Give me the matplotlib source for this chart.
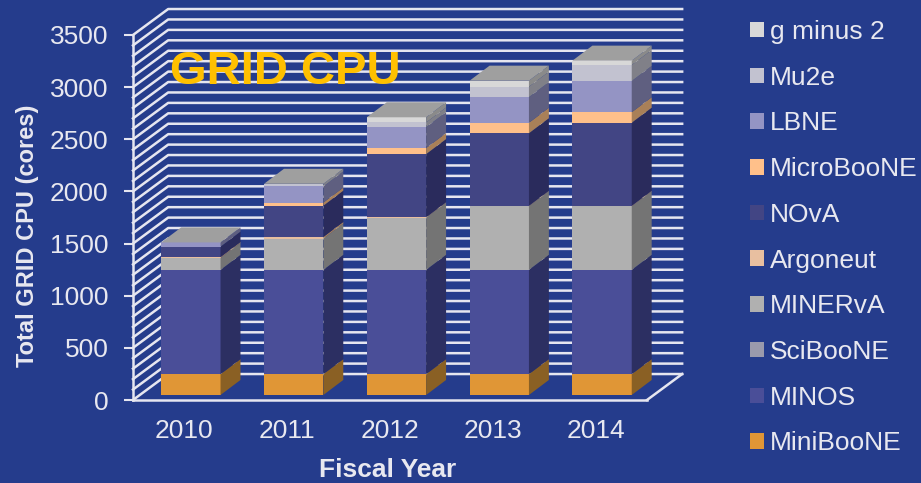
import matplotlib
matplotlib.use('Agg')
import numpy as np
from matplotlib import pyplot as plt
from matplotlib.patches import Polygon, Patch

matplotlib.rcParams.update({'font.family': ['Liberation Sans', 'DejaVu Sans']})

years = ['2010', '2011', '2012', '2013', '2014']
miniboone = [200, 200, 200, 200, 200]
minos = [1000, 1000, 1000, 1000, 1000]
sciboone = [0, 0, 0, 0, 0]
minerva = [115, 300, 500, 610, 610]
argoneut = [8, 15, 5, 5, 5]
nova = [100, 300, 605, 695, 796]
microboone = [0, 30, 58, 100, 100]
lbne = [40, 155, 200, 246, 300]
mu2e = [0, 25, 45, 100, 153]
gminus2 = [0, 0, 50, 58, 42]

names = ['MiniBooNE', 'MINOS', 'SciBooNE', 'MINERvA', 'Argoneut',
         'NOvA', 'MicroBooNE', 'LBNE', 'Mu2e', 'g minus 2']
series = [miniboone, minos, sciboone, minerva, argoneut,
          nova, microboone, lbne, mu2e, gminus2]
front = ['#E09636', '#4A4E98', '#9A9AAC', '#B0B0B0', '#E8BFA0',
         '#424584', '#FFC08A', '#9494C4', '#C2C2D0', '#D8D8D8']
side = ['#8A6024', '#2C2F62', '#66666F', '#747474', '#A98058',
        '#2A2B5C', '#A98058', '#5F5F80', '#808088', '#8A8A8A']
top_color = '#9F9F9F'

bg = '#253C8C'
text_color = '#E8E8F0'
grid_color = '#E6E6F0'

# depth of the fake 3d box and bars, in data units
wall_dx, wall_dy = 0.342, 249
bar_dx, bar_dy = 0.194, 144
off_x, off_y = 0.063, 48
bar_w = 0.577

fig = plt.figure(figsize=(9.21, 4.83), dpi=100, facecolor=bg)
ax = fig.add_axes([133 / 921, 1 - 400 / 483, 514 / 921, 365 / 483], facecolor='none')
ax.set_xlim(-0.5, 4.5)
ax.set_ylim(0, 3500)

# back wall, left wall and floor edge
for v in np.arange(0, 3600, 100):
    ax.plot([-0.5, -0.5 + wall_dx, 4.5 + wall_dx], [v, v + wall_dy, v + wall_dy],
            color=grid_color, lw=1.8, clip_on=False, zorder=1)
ax.plot([4.5, 4.5 + wall_dx], [0, wall_dy], color=grid_color, lw=1.8, clip_on=False, zorder=1)

# bars
for i in range(len(years)):
    left = i - bar_w / 2 + off_x
    right = left + bar_w
    bottom = off_y
    for vals, fc, sc in zip(series, front, side):
        h = vals[i]
        if h == 0:
            continue
        ax.add_patch(Polygon([(left, bottom), (right, bottom), (right, bottom + h), (left, bottom + h)],
                             fc=fc, ec='none', clip_on=False, zorder=3 + i))
        ax.add_patch(Polygon([(right, bottom), (right + bar_dx, bottom + bar_dy),
                              (right + bar_dx, bottom + h + bar_dy), (right, bottom + h)],
                             fc=sc, ec='none', clip_on=False, zorder=3 + i))
        bottom += h
    ax.add_patch(Polygon([(left, bottom), (right, bottom), (right + bar_dx, bottom + bar_dy),
                          (left + bar_dx, bottom + bar_dy)],
                         fc=top_color, ec='none', clip_on=False, zorder=3 + i))

for s in ['top', 'right']:
    ax.spines[s].set_visible(False)
for s in ['left', 'bottom']:
    ax.spines[s].set_color(grid_color)
    ax.spines[s].set_linewidth(1.8)
    ax.spines[s].set_zorder(20)

ax.set_xticks(range(len(years)))
ax.set_xticklabels(years)
ax.set_yticks(np.arange(0, 3501, 500))
ax.tick_params(axis='x', length=0, pad=14, labelsize=19, labelcolor=text_color)
ax.tick_params(axis='y', length=6.5, width=1.5, color=grid_color, pad=11, labelsize=19, labelcolor=text_color)

fig.text(388 / 921, 1 - 470 / 483, 'Fiscal Year', color=text_color, fontsize=19, fontweight='bold',
         ha='center', va='center')
fig.text(28 / 921, 1 - 236 / 483, 'Total GRID CPU (cores)', color=text_color, fontsize=17, fontweight='bold',
         rotation=90, ha='center', va='center')
ax.text(0.98, 3150, 'GRID CPU', color='#FFC000', fontsize=34, fontweight='bold',
        ha='center', va='center', zorder=2)

handles = [Patch(fc=c, ec='none', label=n) for n, c in zip(names, front)][::-1]
leg = fig.legend(handles=handles, loc='upper left', bbox_to_anchor=(750 / 921, 1 - 20 / 483),
                 bbox_transform=fig.transFigure, frameon=False, fontsize=19, labelcolor=text_color,
                 handlelength=0.53, handleheight=0.53, handletextpad=0.22, labelspacing=0.823,
                 borderpad=0, borderaxespad=0)

fig.savefig('out.png', dpi=100, facecolor=bg)
